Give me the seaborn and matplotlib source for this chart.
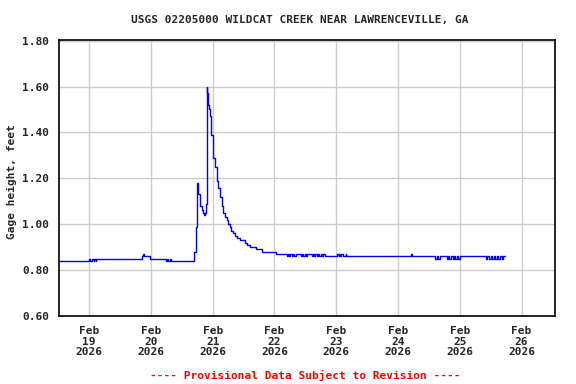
import numpy as np
import pandas as pd
import seaborn as sns
from matplotlib import pyplot as plt

# change points of the gage height record, hours after 2026-02-19 00:00
hours = [-11.75, 0.0, 0.25, 1.25, 1.75, 2.0, 2.5, 2.75,
         20.5, 21.0, 21.25, 23.75,
         29.75, 30.25, 30.75, 31.25, 31.75,
         40.75, 41.5, 41.75, 42.0, 42.25, 42.5, 43.0, 43.25, 43.75, 44.25, 44.5, 45.0, 45.25,
         45.75, 46.0, 46.25, 46.5, 47.0, 47.5, 48.25, 49.0, 49.5, 50.25, 50.75, 51.5, 52.0,
         52.75, 53.5, 54.0, 54.75, 55.25, 56.0, 56.75, 57.5, 58.5, 60.5, 61.5, 62.5, 65.0,
         67.0, 72.5,
         76.75, 77.25, 77.75, 78.0, 78.75, 79.25, 79.75, 80.25,
         82.25, 82.75, 83.25, 83.75, 84.25, 84.75,
         86.5, 87.0, 87.5, 87.75, 88.5, 89.0, 89.5, 90.0, 90.5, 91.0, 91.5,
         96.5, 97.0, 97.25, 97.5, 98.0, 98.5, 99.75, 100.0,
         125.25, 125.5,
         134.5, 135.0, 135.5, 136.25,
         139.0, 139.5, 140.0, 140.75, 141.25, 141.75, 142.25, 142.75, 143.25, 144.25,
         154.25, 154.5,
         155.5, 156.0, 156.5, 157.25, 157.75, 158.5, 159.0, 159.75, 160.25, 161.0, 161.75]
gage = [0.84, 0.85, 0.84, 0.85, 0.84, 0.85, 0.84, 0.85,
        0.86, 0.87, 0.86, 0.85,
        0.84, 0.85, 0.84, 0.85, 0.84,
        0.88, 0.99, 1.17, 1.18, 1.16, 1.13, 1.10, 1.08, 1.06, 1.05, 1.04, 1.05, 1.09,
        1.60, 1.57, 1.52, 1.50, 1.47, 1.39, 1.29, 1.25, 1.19, 1.16, 1.12, 1.08, 1.05,
        1.03, 1.02, 1.00, 0.99, 0.97, 0.96, 0.95, 0.94, 0.93, 0.92, 0.91, 0.90, 0.89,
        0.88, 0.87,
        0.86, 0.87, 0.86, 0.87, 0.86, 0.87, 0.86, 0.87,
        0.86, 0.87, 0.86, 0.87, 0.86, 0.87,
        0.86, 0.87, 0.86, 0.87, 0.86, 0.87, 0.86, 0.87, 0.86, 0.87, 0.86,
        0.87, 0.86, 0.87, 0.86, 0.87, 0.86, 0.87, 0.86,
        0.87, 0.86,
        0.85, 0.86, 0.85, 0.86,
        0.85, 0.86, 0.85, 0.86, 0.85, 0.86, 0.85, 0.86, 0.85, 0.86,
        0.85, 0.86,
        0.85, 0.86, 0.85, 0.86, 0.85, 0.86, 0.85, 0.86, 0.85, 0.86, 0.86]

tick_days = ['2026-02-19', '2026-02-20', '2026-02-21', '2026-02-22',
             '2026-02-23', '2026-02-24', '2026-02-25', '2026-02-26']
tick_labels = ['Feb\n19\n2026', 'Feb\n20\n2026', 'Feb\n21\n2026', 'Feb\n22\n2026',
               'Feb\n23\n2026', 'Feb\n24\n2026', 'Feb\n25\n2026', 'Feb\n26\n2026']
y_ticks = [0.60, 0.80, 1.00, 1.20, 1.40, 1.60, 1.80]

base = pd.Timestamp('2026-02-19')
df = pd.DataFrame({'time': base + pd.to_timedelta(hours, unit='h'), 'gage': gage})

sns.set_style('whitegrid')
plt.rcParams['font.family'] = ['DejaVu Sans Mono']
plt.rcParams['font.weight'] = 'bold'

fig = plt.figure(figsize=(5.76, 3.84), dpi=100)
ax = fig.add_axes([0.1024, 0.177, 0.8611, 0.719])

sns.lineplot(data=df, x='time', y='gage', drawstyle='steps-post', color='#0000ff',
             linewidth=1.0, estimator=None, ax=ax)

ax.set_xlim(base - pd.Timedelta(hours=11.7), base + pd.Timedelta(hours=181))
ax.set_ylim(0.60, 1.803)
ax.set_xticks(pd.to_datetime(tick_days))
ax.set_xticklabels(tick_labels, fontsize=8, fontweight='bold', linespacing=1.1)
ax.set_yticks(y_ticks)
ax.set_yticklabels(['%.2f' % v for v in y_ticks], fontsize=8, fontweight='bold')
ax.tick_params(length=0, pad=7)
ax.set_xlabel('')
ax.set_ylabel('')
ax.grid(True, color='#cccccc', linewidth=1.0)
for s in ax.spines.values():
    s.set_color('black')
    s.set_linewidth(1.2)

fig.text(0.521, 0.948, 'USGS 02205000 WILDCAT CREEK NEAR LAWRENCEVILLE, GA',
         ha='center', va='center', fontsize=8, fontweight='bold')
fig.text(0.021, 0.528, 'Gage height, feet', rotation=90, ha='center', va='center',
         fontsize=8, fontweight='bold')
fig.text(0.53, 0.023, '---- Provisional Data Subject to Revision ----', color='red',
         ha='center', va='center', fontsize=8, fontweight='bold')

fig.savefig('out.png', dpi=100, facecolor='white')
